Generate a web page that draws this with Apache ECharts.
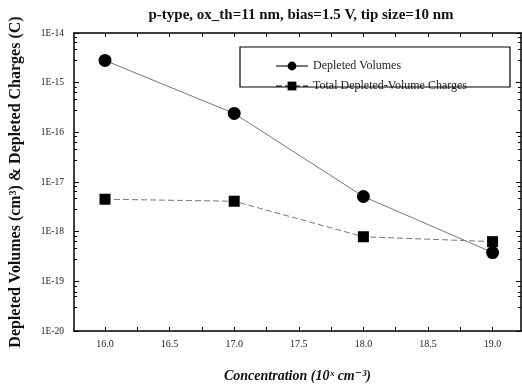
<!DOCTYPE html>
<html>
<head>
<meta charset="utf-8">
<script src="https://cdn.jsdelivr.net/npm/echarts@6/dist/echarts.min.js"></script>
<style>
  html, body { margin: 0; padding: 0; background: #fff; }
  #chart { width: 522px; height: 388px; }
</style>
</head>
<body>
<div id="chart"></div>
<script>
// concentration (log10 of cm^-3)
const concentration = [16.0, 17.0, 18.0, 19.0];
const depletedVolumes = [2.8e-15, 2.4e-16, 5.1e-18, 3.8e-19];
const depletedCharges = [4.5e-18, 4.1e-18, 7.9e-19, 6.3e-19];
const xTickLabels = [16.0, 16.5, 17.0, 17.5, 18.0, 18.5, 19.0];
const xMinorTicks = [16.0, 16.25, 16.5, 16.75, 17.0, 17.25, 17.5, 17.75, 18.0, 18.25, 18.5, 18.75, 19.0];

const serif = '"Liberation Serif", "DejaVu Serif", serif';
let myChart = echarts.init(document.getElementById('chart'));

function pairs(xs, ys) {
    return xs.map((x, i) => [x, ys[i]]);
}

const xCommon = {
    type: 'value',
    min: 15.76,
    max: 19.22,
    splitLine: { show: false },
    axisLine: { show: true, onZero: false, lineStyle: { color: '#000', width: 1.5 } },
    axisTick: { show: true, inside: true, length: 4, customValues: xMinorTicks, lineStyle: { color: '#000' } }
};
const yCommon = {
    type: 'log',
    logBase: 10,
    min: 1e-20,
    max: 1e-14,
    splitLine: { show: false },
    axisLine: { show: true, onZero: false, lineStyle: { color: '#000', width: 1.5 } },
    axisTick: { show: true, inside: true, length: 5, lineStyle: { color: '#000' } },
    minorTick: { show: true, splitNumber: 5, length: 3, lineStyle: { color: '#000' } }
};

let options = {
    backgroundColor: '#fff',
    animation: false,
    title: {
        text: 'p-type, ox_th=11 nm, bias=1.5 V, tip size=10 nm',
        left: 296,
        textAlign: 'center',
        top: 3,
        textStyle: { fontFamily: serif, fontSize: 15, fontWeight: 'bold', color: '#111' }
    },
    grid: { left: 72, right: 1, top: 33, bottom: 54 },
    legend: {
        orient: 'vertical',
        left: 270,
        top: 55,
        itemWidth: 32,
        itemHeight: 11,
        itemGap: 8,
        textStyle: { fontFamily: serif, fontSize: 12, color: '#222' },
        data: ['Depleted Volumes', 'Total Depleted-Volume Charges']
    },
    graphic: [{
        type: 'rect',
        shape: { x: 240, y: 47, width: 270, height: 40 },
        style: { fill: 'none', stroke: '#000', lineWidth: 1.2 },
        z: 10
    }],
    xAxis: [
        Object.assign({}, xCommon, {
            position: 'bottom',
            name: 'Concentration (10ˣ cm⁻³)',
            nameLocation: 'middle',
            nameGap: 38,
            nameTextStyle: { fontFamily: serif, fontSize: 14, fontWeight: 'bold', fontStyle: 'italic', color: '#111' },
            axisLabel: {
                customValues: xTickLabels,
                formatter: v => v.toFixed(1),
                fontFamily: serif, fontSize: 10, color: '#222', margin: 8
            }
        }),
        Object.assign({}, xCommon, {
            position: 'top',
            axisLabel: { show: false }
        })
    ],
    yAxis: [
        Object.assign({}, yCommon, {
            position: 'left',
            name: 'Depleted Volumes (cm³) & Depleted Charges (C)',
            nameLocation: 'middle',
            nameGap: 50,
            nameTextStyle: { fontFamily: serif, fontSize: 16, fontWeight: 'bold', color: '#111' },
            axisLabel: {
                formatter: v => '1E' + Math.round(Math.log10(v)),
                fontFamily: serif, fontSize: 9.5, color: '#222', margin: 10
            }
        }),
        Object.assign({}, yCommon, {
            position: 'right',
            axisLabel: { show: false }
        })
    ],
    series: [{
        name: 'Depleted Volumes',
        type: 'line',
        data: pairs(concentration, depletedVolumes),
        symbol: 'circle',
        symbolSize: 13,
        itemStyle: { color: '#000' },
        lineStyle: { color: '#777', width: 1, type: 'solid' }
    }, {
        name: 'Total Depleted-Volume Charges',
        type: 'line',
        data: pairs(concentration, depletedCharges),
        symbol: 'rect',
        symbolSize: 11,
        itemStyle: { color: '#000' },
        lineStyle: { color: '#777', width: 1, type: [6, 3] }
    }]
};
myChart.setOption(options);
</script>
</body>
</html>
